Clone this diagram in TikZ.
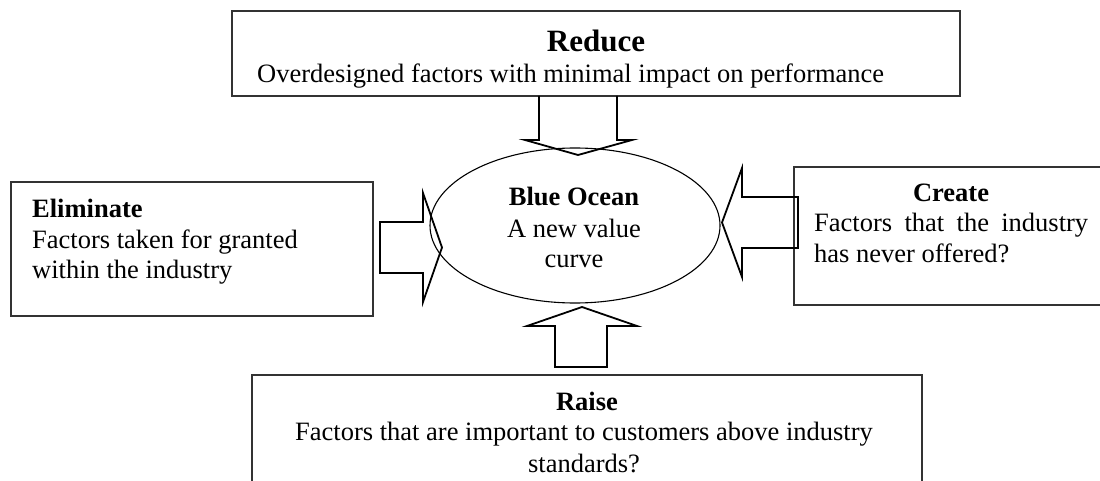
\documentclass[tikz,border=0pt]{standalone}
\usepackage{fontspec}
\setmainfont{Liberation Serif}
\begin{document}
\begin{tikzpicture}[x=1pt,y=-1pt,
  framebox/.style={draw=black!80,line width=1.3pt,fill=none},
  blockarrow/.style={draw=black,line width=1.8pt,line join=miter},
  body/.style={inner sep=0pt,font=\fontsize{26.5}{30}\selectfont},
  head/.style={inner sep=0pt,font=\fontsize{26.5}{30}\selectfont\bfseries},
  bighead/.style={inner sep=0pt,font=\fontsize{31}{34}\selectfont\bfseries}]
\useasboundingbox (0,0) rectangle (1100,481);
\clip (0,0) rectangle (1100,481);

% the four framed boxes
\draw[framebox] (232,11) rectangle (960,96) coordinate (reduceSE);
\draw[framebox] (11,182) rectangle (373,316);
\draw[framebox] (794,167) rectangle (1108,305);
\draw[framebox] (252,375) rectangle (922,520);

% central ellipse
\draw[line width=1.1pt] (575,225.5) ellipse [x radius=145, y radius=77.5];
\node[head] (oceanT) at (574,206) [anchor=base] {Blue Ocean};
\node[body] (ocean1) at (574,237) [anchor=base] {A new value};
\node[body] (ocean2) at (574,267) [anchor=base] {curve};

% Reduce
\node[bighead] (reduceT) at (596,52) [anchor=base] {Reduce};
\node[body] (reduce1) at (257,83) [anchor=base west] {Overdesigned factors with minimal impact on performance};

% Eliminate
\node[head] (elimT) at (32,218) [anchor=base west] {Eliminate};
\node[body] (elim1) at (32,248) [anchor=base west] {Factors taken for granted};
\node[body] (elim2) at (32,278) [anchor=base west] {within the industry};

% Create
\node[head] (createT) at (951,202) [anchor=base] {Create};
\node[body] (create1) at (814,232) [anchor=base west] {\makebox[274pt][s]{Factors that the industry}};
\node[body] (create2) at (814,262) [anchor=base west] {has never offered?};

% Raise
\node[head] (raiseT) at (587,410) [anchor=base] {Raise};
\node[body] (raise1) at (584,440) [anchor=base] {Factors that are important to customers above industry};
\node[body] (raise2) at (584,472) [anchor=base] {standards?};

% block arrows pointing at the ellipse
% from Reduce (downwards)
\draw[blockarrow] (539,96) -- (539,140) -- (525,140) -- (578,155) -- (632,140)
  -- (617,140) -- (617,96);
% from Eliminate (to the right)
\draw[blockarrow] (380,222) -- (423,222) -- (423,193) -- (442,247.5) -- (423,302)
  -- (423,273) -- (380,273) -- cycle;
% from Create (to the left)
\draw[blockarrow] (798,197) -- (742,197) -- (742,168) -- (722,222.5) -- (742,277)
  -- (742,248) -- (798,248) -- cycle;
% from Raise (upwards)
\draw[blockarrow] (555,367) -- (555,326) -- (527,326) -- (582,307) -- (637,326)
  -- (607,326) -- (607,367) -- cycle;
\end{tikzpicture}
\end{document}
